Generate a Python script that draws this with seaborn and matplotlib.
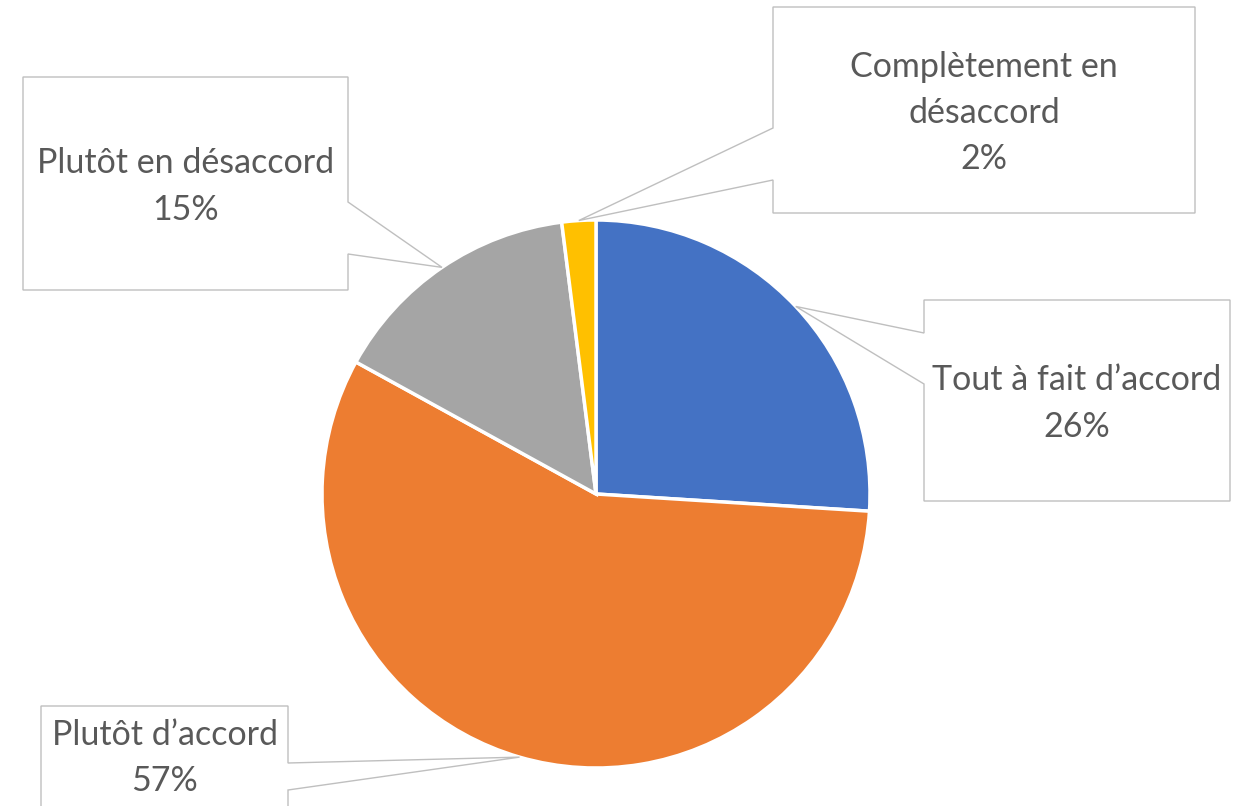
import numpy as np
import matplotlib
matplotlib.use("Agg")
import matplotlib.pyplot as plt
import seaborn as sns
from matplotlib.patches import Polygon

# données
labels = ["Tout à fait d’accord", "Plutôt d’accord", "Plutôt en désaccord", "Complètement en\ndésaccord"]
values = [26, 57, 15, 2]
colors = ["#4472C4", "#ED7D31", "#A5A5A5", "#FFC000"]

W, H = 1241, 806

# boîtes des étiquettes (pixels, y vers le haut) : x0, x1, y0, y1, côté de la pointe, p0, p1
boxes = [
    (924, 1230, H - 501, H - 300, "left", H - 384, H - 333),
    (41, 288, H - 840, H - 706, "right", H - 790, H - 763),
    (23, 348, H - 290, H - 77, "right", H - 254, H - 202),
    (773, 1195, H - 213, H - 7, "left", H - 180, H - 128),
]

sns.set_theme(style="white")
plt.rcParams['font.family'] = ['Lato', 'DejaVu Sans']

fig = plt.figure(figsize=(W / 100, H / 100), dpi=100)
ax = fig.add_axes([0, 0, 1, 1])

cx, cy, r = 596, H - 494, 274
wedges, _ = ax.pie(values, colors=colors, startangle=90, counterclock=False,
                   center=(cx, cy), radius=r,
                   wedgeprops=dict(edgecolor="white", linewidth=2.5))

ax.set_xlim(0, W)
ax.set_ylim(0, H)
ax.set_aspect("equal")
ax.axis("off")

for w, lab, v, b in zip(wedges, labels, values, boxes):
    x0, x1, y0, y1, side, p0, p1 = b
    mid = np.deg2rad((w.theta1 + w.theta2) / 2)
    tip = (cx + r * np.cos(mid), cy + r * np.sin(mid))
    if side == "right":
        pts = [(x0, y0), (x1, y0), (x1, p0), tip, (x1, p1), (x1, y1), (x0, y1)]
    else:
        pts = [(x0, y0), (x1, y0), (x1, y1), (x0, y1), (x0, p1), tip, (x0, p0)]
    ax.add_patch(Polygon(pts, closed=True, facecolor="white", edgecolor="#BFBFBF",
                         linewidth=1.0, zorder=3))
    ty = (y0 + y1) / 2 - 3 if y0 > 0 else H - 758
    ax.text((x0 + x1) / 2, ty, f"{lab}\n{v}%", ha="center", va="center",
            fontsize=24.5, color="#595959", linespacing=1.55, zorder=4)

fig.savefig("out.png", dpi=100)
